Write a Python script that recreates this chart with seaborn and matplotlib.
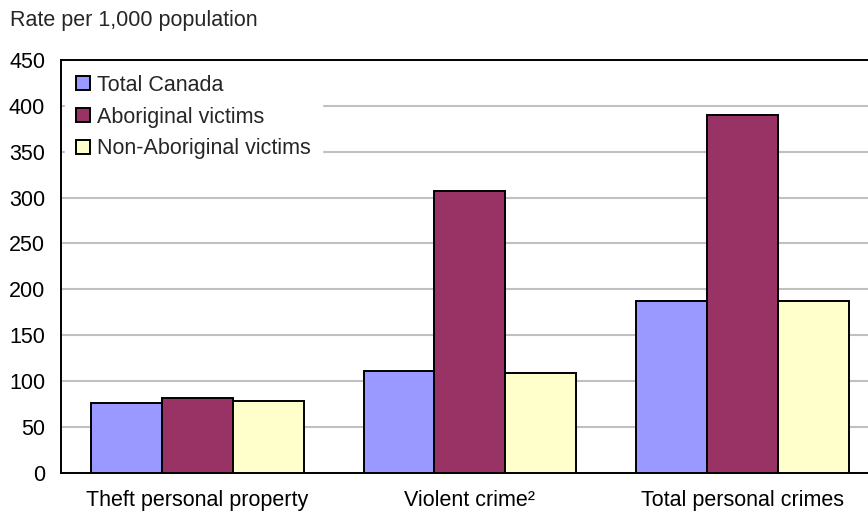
import numpy as np
import pandas as pd
import matplotlib
matplotlib.use("Agg")
import matplotlib.pyplot as plt
import seaborn as sns

# data
categories = ['Theft personal property', 'Violent crime²', 'Total personal crimes']
total_canada = [76, 111, 187]
aboriginal = [82, 307, 390]
non_aboriginal = [78, 109, 187]
series = ['Total Canada', 'Aboriginal victims', 'Non-Aboriginal victims']
colores = ['#9999FF', '#993366', '#FFFFCC']

df = pd.DataFrame({
    'cat': categories * 3,
    'serie': [s for s in series for _ in categories],
    'valor': total_canada + aboriginal + non_aboriginal,
})

sns.set_style('white')
plt.rcParams['font.family'] = ['Liberation Sans', 'DejaVu Sans']
fs = 15.5

fig = plt.figure(figsize=(8.68, 5.12), dpi=100)
ax = fig.add_axes([0.0703, 0.0762, 0.942, 0.807])

sns.barplot(data=df, x='cat', y='valor', hue='serie', palette=colores,
            order=categories, hue_order=series, width=0.78,
            edgecolor='black', linewidth=1.4, saturation=1, ax=ax, zorder=3)

ax.set_xlim(-0.5, 2.5)
ax.set_ylim(0, 450)
ax.set_yticks(np.arange(0, 451, 50))
ax.yaxis.grid(True, color='#c0c0c0', linewidth=1.5, zorder=0)
ax.set_axisbelow(True)
ax.set_xlabel('')
ax.set_ylabel('')
ax.tick_params(axis='both', length=0, labelsize=fs, colors='black')
ax.tick_params(axis='y', pad=11.5)
ax.tick_params(axis='x', pad=12.5)
for lado in ['left', 'top', 'bottom']:
    ax.spines[lado].set_color('black')
    ax.spines[lado].set_linewidth(1.4)
ax.spines['right'].set_visible(False)

fig.text(0.0115, 0.96, 'Rate per 1,000 population', fontsize=fs, va='center', ha='left')

leg = ax.legend(loc='upper left', fontsize=fs, frameon=True, fancybox=False,
                facecolor='white', edgecolor='white', framealpha=1,
                handlelength=0.65, handleheight=0.65, handletextpad=0.33,
                labelspacing=0.5, borderpad=0.5, borderaxespad=0.2)
leg.set_zorder(5)

plt.savefig('out.png', dpi=100)
